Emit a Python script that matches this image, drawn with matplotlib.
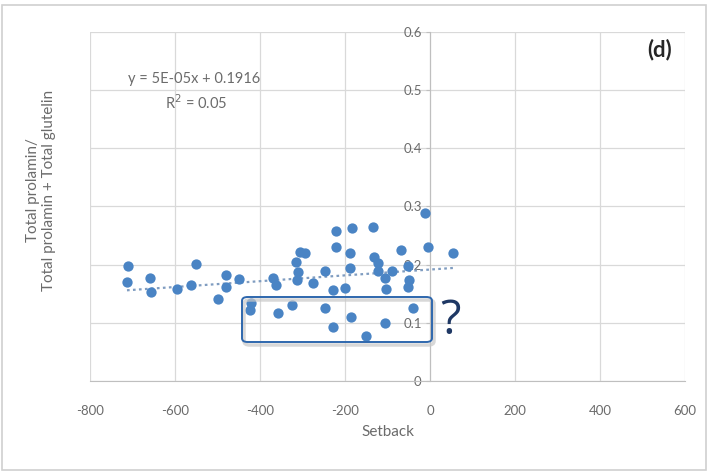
import matplotlib
matplotlib.use("Agg")
import matplotlib.pyplot as plt
from matplotlib.patches import FancyBboxPatch, Rectangle
import numpy as np

plt.rcParams['font.family'] = ['Lato', 'DejaVu Sans']
plt.rcParams['axes.unicode_minus'] = False

# Data (Setback vs prolamin ratio)
setback = [-711, -713, -659, -656, -595, -562, -551, -480, -480, -449, -499,
           -369, -362, -421, -424, -358, -325, -306, -294, -315, -311, -313,
           -275, -247, -221, -221, -228, -200, -188, -247, -186, -228, -151,
           -106, -40, -184, -134, -188, -132, -122, -122, -106, -89, -68,
           -52, -49, -52, -104, -12, -5, 54]
ratio = [0.198, 0.170, 0.177, 0.153, 0.158, 0.165, 0.201, 0.182, 0.162, 0.175, 0.141,
         0.177, 0.165, 0.134, 0.122, 0.117, 0.131, 0.222, 0.220, 0.204, 0.187, 0.174,
         0.168, 0.189, 0.258, 0.230, 0.156, 0.160, 0.194, 0.125, 0.110, 0.093, 0.077,
         0.100, 0.125, 0.263, 0.265, 0.220, 0.213, 0.203, 0.189, 0.177, 0.189, 0.225,
         0.198, 0.174, 0.162, 0.158, 0.289, 0.230, 0.220]
slope = 5e-05
intercept = 0.1916
equation = "y = 5E-05x + 0.1916"
r2_text = "R$^2$ = 0.05"
x_ticks = [-800, -600, -400, -200, 0, 200, 400, 600]
y_ticks = [0, 0.1, 0.2, 0.3, 0.4, 0.5, 0.6]
y_tick_labels = ["0", "0.1", "0.2", "0.3", "0.4", "0.5", "0.6"]

fig = plt.figure(figsize=(7.11, 4.74), dpi=100)
ax = fig.add_axes([90/711, 1-381/474, (685-90)/711, (381-32)/474])

grid_c = '#d9d9d9'
ax.set_xlim(-800, 600)
ax.set_ylim(0, 0.6)
ax.set_xticks(x_ticks)
ax.set_yticks(y_ticks)
ax.set_yticklabels(y_tick_labels)
ax.grid(True, color=grid_c, linewidth=0.9)
ax.set_axisbelow(True)

for s in ['top', 'right']:
    ax.spines[s].set_visible(False)
ax.spines['left'].set_position(('data', 0))
ax.spines['left'].set_color('#bfbfbf')
ax.spines['bottom'].set_color('#bfbfbf')

ax.tick_params(axis='x', length=0, pad=17, labelsize=9.5, labelcolor='#6b6b6b')
ax.tick_params(axis='y', length=3, color='#bfbfbf', pad=3, labelsize=9.5, labelcolor='#6b6b6b')

ax.scatter(setback, ratio, s=55, color='#4A84C4', zorder=3, linewidths=0)

xs = np.array([min(setback), max(setback)])
ax.plot(xs, slope * xs + intercept, linestyle=(0, (1.2, 1.5)), color='#7f9cc0',
        linewidth=1.6, zorder=2)

ax.set_xlabel("Setback", fontsize=11, color='#6b6b6b', labelpad=6)

fig.text(41/711, 1-190/474, "Total prolamin/\nTotal prolamin + Total glutelin",
         rotation=90, ha='center', va='center', fontsize=11, color='#6b6b6b',
         linespacing=1.25)

fig.text(194/711, 1-79/474, equation, ha='center', va='center', fontsize=10.5, color='#6b6b6b')
fig.text(196/711, 1-103/474, r2_text, ha='center', va='center', fontsize=10.5, color='#6b6b6b')

fig.text(660/711, 1-50/474, "(d)", ha='center', va='center', fontsize=16,
         fontweight='bold', color='#262626')

# highlight box with "?"
bx0, by0, bx1, by1 = 242/711, 1-342/474, 432/711, 1-297/474
shadow = FancyBboxPatch((bx0 + 2/711, by0 - 3/474), bx1 - bx0, by1 - by0,
                        boxstyle="round,pad=0,rounding_size=0.008",
                        transform=fig.transFigure, facecolor='none',
                        edgecolor='#c8c8c8', linewidth=2.5, alpha=0.7, zorder=4)
box = FancyBboxPatch((bx0, by0), bx1 - bx0, by1 - by0,
                     boxstyle="round,pad=0,rounding_size=0.008",
                     transform=fig.transFigure, facecolor='none',
                     edgecolor='#2e67ad', linewidth=1.4, zorder=5)
fig.patches.extend([shadow, box])
fig.text(450/711, 1-321/474, "?", ha='center', va='center', fontsize=34,
         color='#1f3864', family=['Open Sans', 'DejaVu Sans'])

fig.patches.append(Rectangle((2/711, 4/474), 704/711, 465/474, transform=fig.transFigure,
                             facecolor='none', edgecolor='#d0d0d0', linewidth=1.2))

fig.savefig("out.png", dpi=100)
